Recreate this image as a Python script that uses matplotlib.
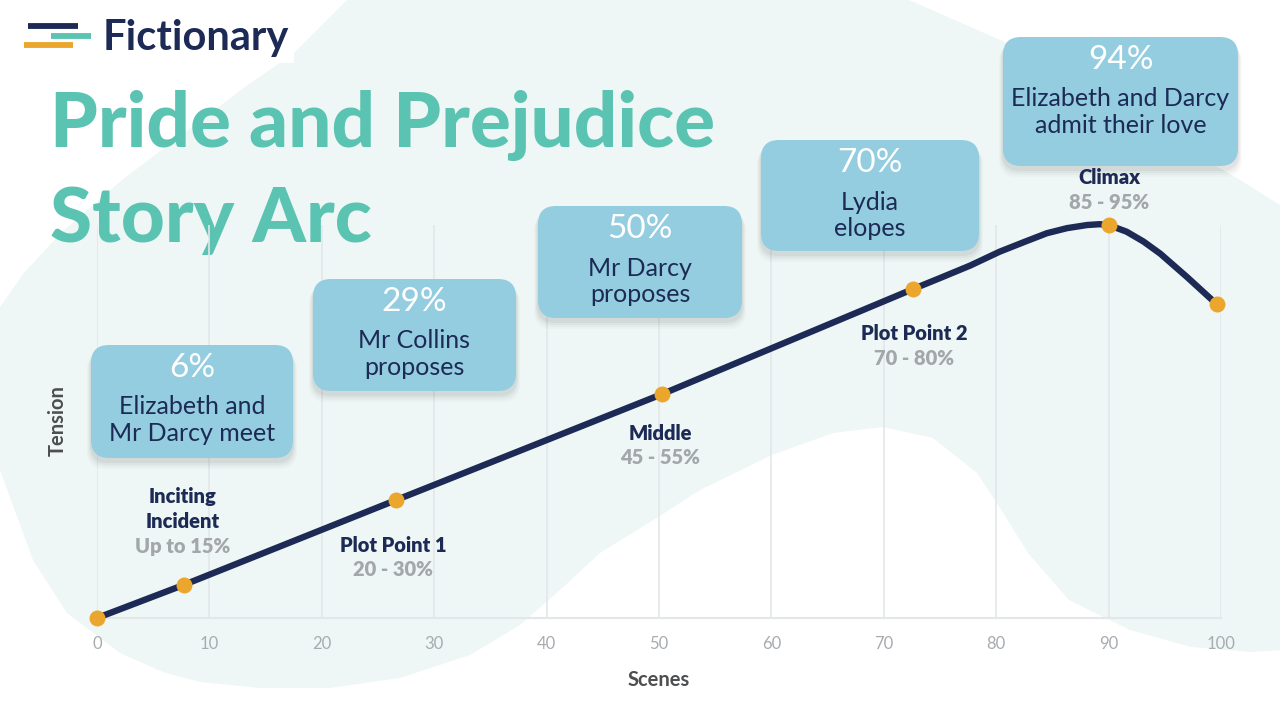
import matplotlib
matplotlib.use("Agg")
import matplotlib.pyplot as plt
from matplotlib.patches import FancyBboxPatch, Polygon, Rectangle

# story arc (x = % of scenes, y = tension 0..100)
arc_x = [0, 7.7, 26.6, 50.3, 72.6, 75.0, 77.7, 80.3, 82.6, 84.5, 86.3, 88.1, 89.2, 90.0,
         91.6, 93.1, 94.6, 97.0, 99.6]
arc_y = [0, 8.4, 30.0, 57.0, 83.7, 86.5, 89.7, 93.2, 95.8, 97.9, 99.2, 100.0, 100.2, 100.0,
         98.3, 95.8, 92.7, 86.7, 79.9]

milestone_x = [0, 7.7, 26.6, 50.3, 72.6, 90.0, 99.6]
milestone_y = [0, 8.4, 30.0, 57.0, 83.7, 100.0, 79.9]

stage_names = ["Inciting\nIncident", "Plot Point 1", "Middle", "Plot Point 2", "Climax"]
stage_ranges = ["Up to 15%", "20 - 30%", "45 - 55%", "70 - 80%", "85 - 95%"]

event_pcts = ["6%", "29%", "50%", "70%", "94%"]
event_texts = ["Elizabeth and\nMr Darcy meet", "Mr Collins\nproposes", "Mr Darcy\nproposes",
               "Lydia\nelopes", "Elizabeth and Darcy\nadmit their love"]

x_ticks = [0, 10, 20, 30, 40, 50, 60, 70, 80, 90, 100]

NAVY = "#1c2a55"
ORANGE = "#eba62e"
TEAL = "#5bc3b1"
BOX = "#94cde0"
MINT = "#eef7f5"
GRID = "#e4e7e9"
GRAY = "#a4a7aa"
FONT = "Lato"

W, H = 1280, 720
fig = plt.figure(figsize=(12.8, 7.2), dpi=100)
fig.patch.set_facecolor("white")

# background layer in pixel coords
bg = fig.add_axes([0, 0, 1, 1], zorder=0)
bg.set_xlim(0, W)
bg.set_ylim(H, 0)
bg.axis("off")

blob = [(347, 0), (909, 0), (1007, 43), (1100, 100), (1180, 145), (1240, 180), (1280, 205),
        (1280, 650), (1252, 652), (1191, 647), (1130, 630), (1069, 600), (1028, 553),
        (995, 500), (977, 473), (933, 438), (883, 427), (833, 433), (772, 455), (700, 490),
        (658, 517), (600, 553), (560, 590), (520, 625), (470, 655), (400, 678), (330, 688),
        (261, 688), (200, 682), (163, 672), (120, 653), (67, 613), (33, 560), (0, 470),
        (0, 307), (24, 273), (61, 233), (122, 180), (184, 133), (245, 87), (294, 53)]
bg.add_patch(Polygon(blob, closed=True, facecolor=MINT, edgecolor="none"))
bg.add_patch(Rectangle((0, 0), 294, 63, facecolor="white", edgecolor="none"))

# logo
bg.plot([28, 78], [26, 26], color=NAVY, lw=4.2, solid_capstyle="butt")
bg.plot([51, 91], [35.5, 35.5], color=TEAL, lw=4.2, solid_capstyle="butt")
bg.plot([24, 73], [45, 45], color=ORANGE, lw=4.2, solid_capstyle="butt")
bg.text(103, 50, "Fictionary", fontsize=30, fontweight="bold", color=NAVY,
        family=FONT, va="baseline", ha="left")

# title
bg.text(50, 147, "Pride and Prejudice", fontsize=55, fontweight="black", color=TEAL,
        family=FONT, va="baseline", ha="left")
bg.text(50, 242, "Story Arc", fontsize=55, fontweight="black", color=TEAL,
        family=FONT, va="baseline", ha="left")

# main chart
ax = fig.add_axes([97 / W, 1 - 618 / H, 1124 / W, 393 / H], zorder=1)
ax.patch.set_alpha(0)
ax.set_xlim(0, 100)
ax.set_ylim(0, 100)
ax.set_xticks(x_ticks)
ax.set_yticks([])
ax.grid(axis="x", color=GRID, lw=1.2)
ax.set_axisbelow(True)
for side in ["top", "right", "left"]:
    ax.spines[side].set_visible(False)
ax.spines["bottom"].set_color(GRID)
ax.spines["bottom"].set_linewidth(1.5)
ax.tick_params(axis="x", length=0, pad=13, labelsize=12, labelcolor="#a8acb0")
for lbl in ax.get_xticklabels():
    lbl.set_family(FONT)

ax.plot(arc_x, arc_y, color=NAVY, lw=4.6, solid_joinstyle="round",
        solid_capstyle="round", clip_on=False, zorder=3)
ax.plot(milestone_x, milestone_y, "o", color=ORANGE, ms=11.5, mec="none",
        clip_on=False, zorder=4)

ax.set_xlabel("Scenes", fontsize=14.5, fontweight="bold", color="#4d4e50",
              family=FONT, labelpad=13)

# overlay in pixel coords
ov = fig.add_axes([0, 0, 1, 1], zorder=2)
ov.set_xlim(0, W)
ov.set_ylim(H, 0)
ov.axis("off")

ov.text(58, 421, "Tension", rotation=90, fontsize=14.5, fontweight="bold", color="#4d4e50",
        family=FONT, ha="center", va="center")

# stage labels, y of the first line in pixels
stage_pos = [(183, 497), (393, 545), (660, 433), (914, 334), (1109, 178)]
for (sx, sy), name, rng in zip(stage_pos, stage_names, stage_ranges):
    lines = name.split("\n")
    for i, line in enumerate(lines):
        ov.text(sx, sy + 24.5 * i, line, fontsize=14.5, fontweight="heavy", color=NAVY,
                family=FONT, ha="center", va="center")
    ov.text(sx, sy + 24.5 * len(lines), rng, fontsize=14.5, fontweight="heavy",
            color=GRAY, family=FONT, ha="center", va="center")

# event boxes
box_pos = [(91, 345, 202, 113), (313, 279, 203, 112), (538, 206, 204, 112),
           (761, 140, 218, 111), (1003, 37, 235, 129)]
for (bx, by, bw, bh), pct, txt in zip(box_pos, event_pcts, event_texts):
    for k, a in enumerate([0.04, 0.03, 0.025, 0.02]):
        g = 2 + k * 2
        ov.add_patch(FancyBboxPatch((bx - g / 2, by + 4 + k), bw + g, bh + g / 2,
                                    boxstyle="round,pad=0,rounding_size=18",
                                    facecolor="black", alpha=a, edgecolor="none"))
    ov.add_patch(FancyBboxPatch((bx, by), bw, bh, boxstyle="round,pad=0,rounding_size=18",
                                facecolor=BOX, edgecolor="none"))
    cx = bx + bw / 2
    ov.text(cx, by + 23, pct, fontsize=24, fontweight="normal", color="white", family=FONT,
            ha="center", va="center")
    for i, line in enumerate(txt.split("\n")):
        ov.text(cx, by + 62 + 26.5 * i, line, fontsize=18, fontweight="normal", color=NAVY,
                family=FONT, ha="center", va="center")

fig.savefig("out.png", dpi=100, facecolor="white")
